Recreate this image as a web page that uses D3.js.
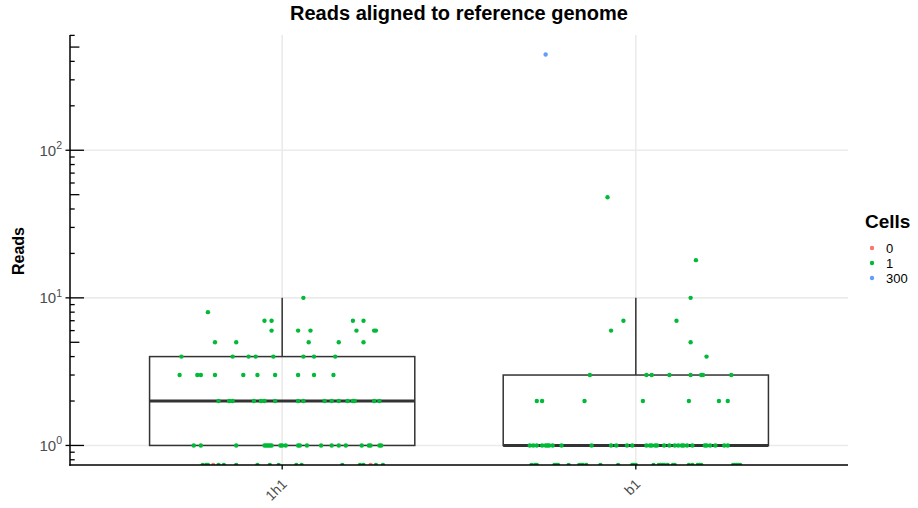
<!DOCTYPE html>
<html>
<head>
<meta charset="utf-8">
<script src="https://cdn.jsdelivr.net/npm/d3@7"></script>
<style>
  html, body { margin: 0; padding: 0; background: #fff; }
  svg { display: block; font-family: "Liberation Sans", Arial, Helvetica, sans-serif; }
</style>
</head>
<body>
<svg id="chart" width="918" height="508"></svg>
<script>
// ---------------- DATA ----------------
const categories = ["1h1", "b1"];
const cellLevels = ["0", "1", "300"];
const cellColors = ["#F8766D", "#00BA38", "#619CFF"];
const yMajorTicks = [1, 10, 100];
const yTickExponents = ["0", "1", "2"];

// [reads, horizontal jitter (category units), cells]
const points1h1 = [
  [10, 0.06, 1],
  [8, -0.21, 1],
  [7, -0.05, 1], [7, -0.03, 1], [7, 0.20, 1], [7, 0.23, 1],
  [6, -0.03, 1], [6, 0.045, 1], [6, 0.08, 1], [6, 0.21, 1], [6, 0.26, 1], [6, 0.265, 1],
  [5, -0.19, 1], [5, -0.13, 1], [5, 0.075, 1], [5, 0.16, 1], [5, 0.23, 1],
  [4, -0.285, 1], [4, -0.14, 1], [4, -0.095, 1], [4, -0.075, 1], [4, -0.025, 1], [4, 0.06, 1], [4, 0.09, 1], [4, 0.15, 1],
  [3, -0.29, 1], [3, -0.24, 1], [3, -0.23, 1], [3, -0.19, 1], [3, -0.11, 1], [3, -0.07, 1], [3, -0.02, 1], [3, 0.045, 1], [3, 0.09, 1], [3, 0.145, 1],
  [2, -0.18, 1], [2, -0.15, 1], [2, -0.14, 1], [2, -0.08, 1], [2, -0.06, 1], [2, -0.05, 1], [2, -0.02, 1], [2, 0.045, 1], [2, 0.06, 1],
  [2, 0.12, 1], [2, 0.14, 1], [2, 0.16, 1], [2, 0.185, 1], [2, 0.2, 1], [2, 0.205, 1], [2, 0.26, 1], [2, 0.275, 1],
  [1, -0.25, 1], [1, -0.23, 1], [1, -0.13, 1], [1, -0.05, 1], [1, -0.045, 1], [1, -0.04, 1], [1, -0.035, 1], [1, -0.03, 1],
  [1, -0.005, 1], [1, 0, 1], [1, 0.01, 1], [1, 0.045, 1], [1, 0.05, 1], [1, 0.07, 1], [1, 0.11, 1], [1, 0.14, 1],
  [1, 0.16, 1], [1, 0.18, 1], [1, 0.225, 1], [1, 0.245, 1], [1, 0.25, 1], [1, 0.275, 1], [1, 0.28, 1],
  [0, -0.225, 1], [0, -0.215, 1], [0, -0.21, 1], [0, -0.195, 0], [0, -0.18, 1], [0, -0.165, 1], [0, -0.13, 1], [0, -0.07, 1],
  [0, -0.035, 1], [0, -0.01, 1], [0, 0.04, 1], [0, 0.055, 1], [0, 0.17, 1], [0, 0.22, 1], [0, 0.23, 1], [0, 0.25, 0],
  [0, 0.265, 1], [0, 0.285, 1]
];

const pointsB1 = [
  [445, -0.255, 300],
  [48, -0.08, 1],
  [18, 0.17, 1],
  [10, 0.155, 1],
  [7, -0.035, 1], [7, 0.115, 1],
  [6, -0.07, 1],
  [5, 0.155, 1],
  [4, 0.2, 1],
  [3, -0.13, 1], [3, 0.03, 1], [3, 0.045, 1], [3, 0.095, 1], [3, 0.155, 1], [3, 0.185, 1], [3, 0.19, 1], [3, 0.27, 1],
  [2, -0.28, 1], [2, -0.265, 1], [2, -0.145, 1], [2, 0.02, 1], [2, 0.15, 1], [2, 0.235, 1], [2, 0.26, 1],
  [1, -0.3, 1], [1, -0.29, 1], [1, -0.28, 1], [1, -0.265, 1], [1, -0.255, 1], [1, -0.25, 1], [1, -0.245, 1], [1, -0.235, 1],
  [1, -0.21, 1], [1, -0.125, 1], [1, -0.07, 1], [1, -0.055, 1], [1, -0.025, 1], [1, -0.01, 1], [1, 0.03, 1], [1, 0.04, 1],
  [1, 0.045, 1], [1, 0.055, 1], [1, 0.06, 1], [1, 0.08, 1], [1, 0.095, 1], [1, 0.11, 1], [1, 0.12, 1], [1, 0.13, 1],
  [1, 0.135, 1], [1, 0.145, 1], [1, 0.16, 1], [1, 0.195, 1], [1, 0.2, 1], [1, 0.21, 1], [1, 0.225, 1], [1, 0.25, 1], [1, 0.26, 1],
  [0, -0.295, 1], [0, -0.285, 1], [0, -0.28, 1], [0, -0.23, 1], [0, -0.225, 1], [0, -0.22, 1], [0, -0.19, 1], [0, -0.16, 1],
  [0, -0.155, 1], [0, -0.15, 1], [0, -0.14, 1], [0, -0.1, 1], [0, -0.05, 1], [0, -0.01, 1], [0, -0.005, 1], [0, 0, 1],
  [0, 0.05, 1], [0, 0.065, 1], [0, 0.07, 1], [0, 0.075, 1], [0, 0.08, 1], [0, 0.09, 1], [0, 0.105, 1], [0, 0.11, 1],
  [0, 0.15, 1], [0, 0.16, 1], [0, 0.175, 1], [0, 0.18, 1], [0, 0.185, 1], [0, 0.275, 1], [0, 0.28, 1], [0, 0.285, 1],
  [0, 0.29, 1], [0, 0.295, 1]
];

const pointSets = [points1h1, pointsB1];

// ---------------- LAYOUT ----------------
const svg = d3.select("#chart");
const panel = { left: 70, right: 848, top: 35, bottom: 465 };

// discrete x scale (ggplot-like expansion of 0.6 units on each side)
const xUnit = d3.scaleLinear()
  .domain([0.4, categories.length + 0.6])
  .range([panel.left, panel.right]);
const xCat = c => xUnit(categories.indexOf(c) + 1);
const unitPx = xUnit(1) - xUnit(0);

// log y scale with 5% expansion in log space
const allPositive = pointSets.flat().map(d => d[0]).filter(v => v > 0);
const lmin = Math.log10(d3.min(allPositive)), lmax = Math.log10(d3.max(allPositive));
const expand = (lmax - lmin) * 0.05;
const y = d3.scaleLog()
  .domain([Math.pow(10, lmin - expand), Math.pow(10, lmax + expand)])
  .range([panel.bottom, panel.top]);

const color = d3.scaleOrdinal().domain(cellLevels).range(cellColors);

// ---------------- GRID ----------------
const grid = svg.append("g");
grid.selectAll("line.h").data(yMajorTicks).join("line")
  .attr("x1", panel.left).attr("x2", panel.right)
  .attr("y1", d => y(d)).attr("y2", d => y(d))
  .attr("stroke", "#ebebeb").attr("stroke-width", 1.6);
grid.selectAll("line.v").data(categories).join("line")
  .attr("x1", d => xCat(d)).attr("x2", d => xCat(d))
  .attr("y1", panel.top).attr("y2", panel.bottom)
  .attr("stroke", "#ebebeb").attr("stroke-width", 1.6);

// ---------------- BOXPLOTS ----------------
function boxStats(vals) {
  const lv = vals.filter(v => v > 0).map(v => Math.log10(v)).sort(d3.ascending);
  const q1 = d3.quantile(lv, 0.25), med = d3.quantile(lv, 0.5), q3 = d3.quantile(lv, 0.75);
  const iqr = q3 - q1;
  const hiLim = q3 + 1.5 * iqr, loLim = q1 - 1.5 * iqr;
  const hi = d3.max(lv.filter(v => v <= hiLim));
  const lo = d3.min(lv.filter(v => v >= loLim));
  const p = v => Math.pow(10, v);
  return { q1: p(q1), med: p(med), q3: p(q3), hi: p(hi), lo: p(lo) };
}

const boxG = svg.append("g");
const boxHalf = 0.375 * unitPx;
categories.forEach((c, i) => {
  const s = boxStats(pointSets[i].map(d => d[0]));
  const cx = xCat(c);
  const g = boxG.append("g").attr("stroke", "#333333").attr("fill", "none");
  g.append("line").attr("x1", cx).attr("x2", cx).attr("y1", y(s.q3)).attr("y2", y(s.hi)).attr("stroke-width", 1.5);
  g.append("line").attr("x1", cx).attr("x2", cx).attr("y1", y(s.q1)).attr("y2", y(s.lo)).attr("stroke-width", 1.5);
  g.append("rect").attr("x", cx - boxHalf).attr("width", 2 * boxHalf)
    .attr("y", y(s.q3)).attr("height", y(s.q1) - y(s.q3)).attr("stroke-width", 1.5);
  g.append("line").attr("x1", cx - boxHalf).attr("x2", cx + boxHalf)
    .attr("y1", y(s.med)).attr("y2", y(s.med)).attr("stroke-width", 3);
});

// ---------------- POINTS ----------------
svg.append("clipPath").attr("id", "panelClip").append("rect")
  .attr("x", panel.left).attr("y", panel.top)
  .attr("width", panel.right - panel.left).attr("height", panel.bottom - panel.top);

const ptsG = svg.append("g").attr("clip-path", "url(#panelClip)");
categories.forEach((c, i) => {
  ptsG.selectAll(null).data(pointSets[i]).join("circle")
    .attr("cx", d => xCat(c) + d[1] * unitPx)
    .attr("cy", d => d[0] > 0 ? y(d[0]) : panel.bottom)
    .attr("r", 2.2)
    .attr("fill", d => color(String(d[2])));
});

// ---------------- AXES ----------------
const axG = svg.append("g").attr("stroke", "#000");
axG.append("line").attr("x1", panel.left).attr("x2", panel.left)
  .attr("y1", panel.top).attr("y2", panel.bottom + 0.7).attr("stroke-width", 1.5);
axG.append("line").attr("x1", panel.left - 0.7).attr("x2", panel.right)
  .attr("y1", panel.bottom).attr("y2", panel.bottom).attr("stroke-width", 1.5);

// outward major ticks
axG.selectAll("line.ymaj").data(yMajorTicks).join("line")
  .attr("x1", panel.left - 4.5).attr("x2", panel.left)
  .attr("y1", d => y(d)).attr("y2", d => y(d)).attr("stroke-width", 1.3);
axG.selectAll("line.xmaj").data(categories).join("line")
  .attr("x1", d => xCat(d)).attr("x2", d => xCat(d))
  .attr("y1", panel.bottom).attr("y2", panel.bottom + 4.5).attr("stroke-width", 1.3);

// inward log ticks
const [dLo, dHi] = y.domain();
const logTicks = [];
for (let e = Math.floor(Math.log10(dLo)); e <= Math.ceil(Math.log10(dHi)); e++) {
  for (let m = 1; m <= 9; m++) {
    const v = m * Math.pow(10, e);
    if (v >= dLo && v <= dHi) logTicks.push({ v, len: m === 1 ? 14 : (m === 5 ? 9.4 : 4.7) });
  }
}
axG.selectAll("line.lt").data(logTicks).join("line")
  .attr("x1", panel.left).attr("x2", d => panel.left + d.len)
  .attr("y1", d => y(d.v)).attr("y2", d => y(d.v)).attr("stroke-width", 1.3);

// y tick labels 10^n
const yLab = svg.append("g").attr("fill", "#4d4d4d");
yMajorTicks.forEach((t, i) => {
  const txt = yLab.append("text")
    .attr("x", panel.left - 8).attr("y", y(t) + 5.5)
    .attr("text-anchor", "end").attr("font-size", 15);
  txt.append("tspan").text("10");
  txt.append("tspan").attr("dy", -6.5).attr("font-size", 10.5).text(yTickExponents[i]);
});

// x tick labels, rotated 45
svg.append("g").selectAll("text").data(categories).join("text")
  .attr("transform", d => `translate(${xCat(d) + 5.5},${panel.bottom + 20}) rotate(-45)`)
  .attr("text-anchor", "end")
  .attr("font-size", 14).attr("fill", "#4d4d4d").text(d => d);

// axis title
svg.append("text")
  .attr("transform", `translate(23.5,${(panel.top + panel.bottom) / 2 + 1}) rotate(-90)`)
  .attr("text-anchor", "middle").attr("font-size", 16).attr("font-weight", "bold")
  .text("Reads");

// title
svg.append("text").attr("x", (panel.left + panel.right) / 2).attr("y", 20)
  .attr("text-anchor", "middle").attr("font-size", 20).attr("font-weight", "bold")
  .text("Reads aligned to reference genome");

// ---------------- LEGEND ----------------
const leg = svg.append("g").attr("transform", "translate(865,0)");
leg.append("text").attr("x", 0).attr("y", 227.5).attr("font-size", 19).attr("font-weight", "bold").text("Cells");
const li = leg.selectAll("g.it").data(cellLevels).join("g")
  .attr("transform", (d, i) => `translate(0,${248 + i * 15})`);
li.append("circle").attr("cx", 7).attr("cy", 0).attr("r", 2.2).attr("fill", d => color(d));
li.append("text").attr("x", 21).attr("y", 4.8).attr("font-size", 13).text(d => d);
</script>
</body>
</html>
